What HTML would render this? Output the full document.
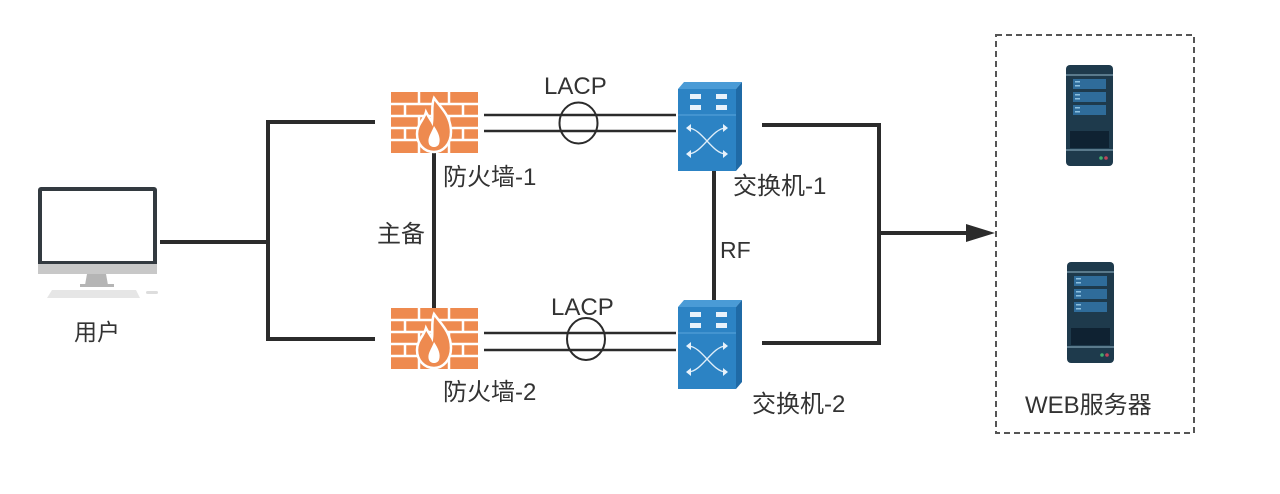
<!DOCTYPE html>
<html><head><meta charset="utf-8"><style>
html,body{margin:0;padding:0;background:#fff;width:1280px;height:494px;overflow:hidden}
svg{display:block}
text{font-family:"Liberation Sans","Noto Sans CJK SC",sans-serif;fill:#333}
</style></head><body>
<svg width="1280" height="494" viewBox="0 0 1280 494" xmlns="http://www.w3.org/2000/svg">
<defs>
<g id="fw">
  <rect x="0" y="0" width="87" height="61" fill="#ee8a4f"/>
  <g stroke="#fff" stroke-width="2.5">
    <line x1="0" y1="12" x2="87" y2="12"/><line x1="0" y1="24" x2="87" y2="24"/>
    <line x1="0" y1="36" x2="87" y2="36"/><line x1="0" y1="48" x2="87" y2="48"/>
    <line x1="28" y1="0" x2="28" y2="12"/><line x1="58" y1="0" x2="58" y2="12"/>
    <line x1="14" y1="12" x2="14" y2="24"/><line x1="43" y1="12" x2="43" y2="24"/><line x1="72" y1="12" x2="72" y2="24"/>
    <line x1="28" y1="24" x2="28" y2="36"/><line x1="58" y1="24" x2="58" y2="36"/>
    <line x1="14" y1="36" x2="14" y2="48"/><line x1="72" y1="36" x2="72" y2="48"/>
    <line x1="28" y1="48" x2="28" y2="61"/><line x1="58" y1="48" x2="58" y2="61"/>
  </g>
  <path d="M43 6 C50 16 60 24 60 40 C60 52 52 60 43 60 C33 60 26 52 26 42 C26 32 33 28 35 20 C38 26 40 28 41 30 C42 22 40 14 43 6Z" fill="#ee8a4f" stroke="#fff" stroke-width="2.5"/>
  <path d="M43 34 C47 40 50 46 48 52 C46 56 40 56 38 52 C36 46 40 42 43 34Z" fill="#fff"/>
</g>
<g id="sw">
  <polygon points="0,7 6,0 64,0 58,7" fill="#4a9bd6"/>
  <polygon points="58,7 64,0 64,82 58,89" fill="#1f6aa6"/>
  <rect x="0" y="7" width="58" height="82" fill="#2c83c4"/>
  <line x1="0" y1="33" x2="58" y2="33" stroke="#5aa6dd" stroke-width="1"/>
  <g fill="#e8f2fb"><rect x="12" y="12" width="11" height="5"/><rect x="38" y="12" width="11" height="5"/><rect x="12" y="23" width="11" height="5"/><rect x="38" y="23" width="11" height="5"/></g>
  <g stroke="#dfeef9" stroke-width="1.3" fill="none">
    <path d="M10 46 C24 46 34 72 48 72"/><path d="M10 72 C24 72 34 46 48 46"/>
  </g>
  <g fill="#e8f2fb">
    <polygon points="8,46 13,42 13,50"/><polygon points="50,46 45,42 45,50"/>
    <polygon points="8,72 13,68 13,76"/><polygon points="50,72 45,68 45,76"/>
  </g>
</g>
<g id="srv">
  <rect x="0" y="0" width="47" height="101" rx="4" fill="#1e3a4c"/>
  <rect x="0" y="9" width="47" height="2" fill="#5a7a8c"/>
  <rect x="0" y="84" width="47" height="2" fill="#5a7a8c"/>
  <g fill="#2f6c9a"><rect x="7" y="14" width="33" height="10"/><rect x="7" y="27" width="33" height="10"/><rect x="7" y="40" width="33" height="10"/></g>
  <g fill="#8cc0e0"><rect x="9" y="16" width="5" height="1.5"/><rect x="9" y="20" width="5" height="1.5"/><rect x="9" y="29" width="5" height="1.5"/><rect x="9" y="33" width="5" height="1.5"/><rect x="9" y="42" width="5" height="1.5"/><rect x="9" y="46" width="5" height="1.5"/></g>
  <rect x="4" y="66" width="39" height="17" fill="#0f2232"/>
  <circle cx="35" cy="93" r="1.8" fill="#3fae6e"/><circle cx="40" cy="93" r="1.8" fill="#c0455a"/>
</g>
</defs>

<!-- user computer -->
<rect x="38" y="187" width="119" height="83" rx="3" fill="#333a40"/>
<rect x="42" y="191" width="111" height="70" fill="#fff"/>
<rect x="38" y="264" width="119" height="10" fill="#c8c8c8"/>
<polygon points="87,274 106,274 108,285 85,285" fill="#b5b5b5"/>
<rect x="80" y="284" width="34" height="3" fill="#b5b5b5"/>
<polygon points="52,290 136,290 140,298 47,298" fill="#e6e6e6"/>
<rect x="146" y="291" width="12" height="3" rx="1.5" fill="#ddd"/>
<text x="74" y="340" font-size="23">用户</text>

<g stroke="#2b2b2b" stroke-width="4" fill="none">
  <line x1="160" y1="242" x2="268" y2="242"/>
  <polyline points="375,122 268,122 268,339 375,339"/>
  <line x1="434" y1="152" x2="434" y2="308"/>
  <line x1="714" y1="171" x2="714" y2="300"/>
  <polyline points="762,125 879,125 879,343 762,343"/>
  <line x1="879" y1="233" x2="970" y2="233"/>
</g>
<polygon points="966,224 995,233 966,242" fill="#2b2b2b"/>

<g stroke="#2b2b2b" stroke-width="2.5" fill="none">
  <line x1="484" y1="115" x2="676" y2="115"/>
  <line x1="484" y1="131" x2="676" y2="131"/>
  <ellipse cx="578.5" cy="123" rx="19" ry="20.5" stroke-width="2"/>
  <line x1="484" y1="333" x2="676" y2="333"/>
  <line x1="484" y1="350" x2="676" y2="350"/>
  <ellipse cx="586" cy="339" rx="19" ry="21" stroke-width="2"/>
</g>
<text x="544" y="94" font-size="24">LACP</text>
<text x="551" y="315" font-size="24">LACP</text>

<use href="#fw" x="391" y="92"/>
<use href="#fw" x="391" y="308"/>
<use href="#sw" x="678" y="82"/>
<use href="#sw" x="678" y="300"/>

<text x="443" y="185" font-size="24">防火墙-1</text>
<text x="443" y="400" font-size="24">防火墙-2</text>
<text x="377" y="242" font-size="24">主备</text>
<text x="720" y="258" font-size="23">RF</text>
<text x="733" y="194" font-size="24">交换机-1</text>
<text x="752" y="412" font-size="24">交换机-2</text>

<rect x="996" y="35" width="198" height="398" fill="none" stroke="#555" stroke-width="2" stroke-dasharray="6,4"/>
<use href="#srv" x="1066" y="65"/>
<use href="#srv" x="1067" y="262"/>
<text x="1025" y="413" font-size="24">WEB服务器</text>
</svg>
</body></html>
